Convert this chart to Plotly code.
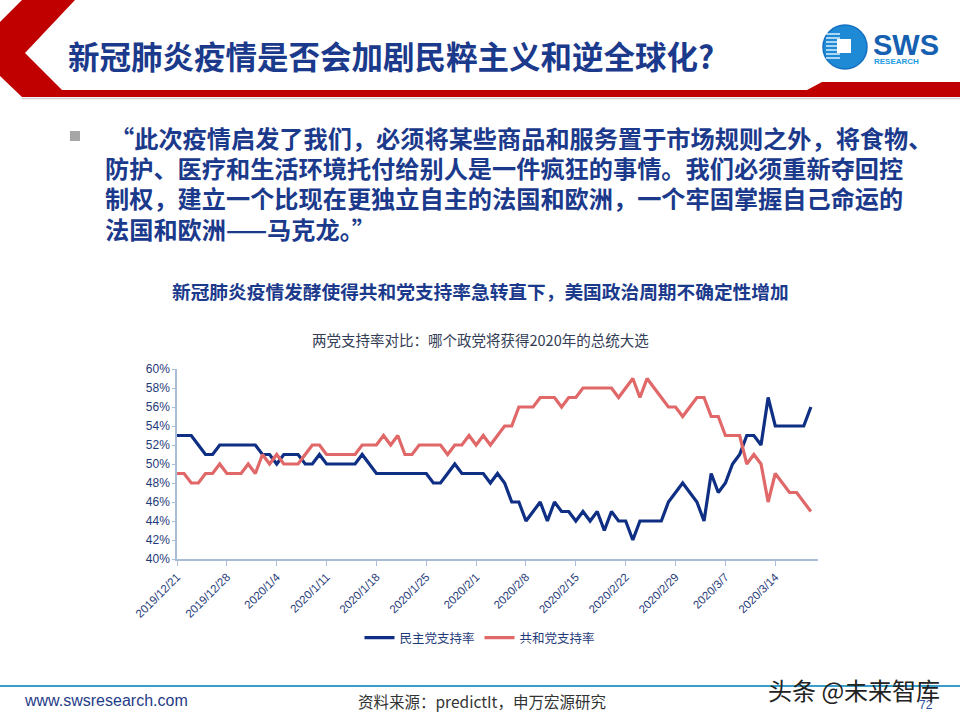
import plotly.graph_objects as go
import pandas as pd

# ---------------- data ----------------
start_date = "2019-12-21"
n_days = 90
dates = pd.date_range(start_date, periods=n_days, freq="D")

dem_support = [53, 53, 53, 52, 51, 51, 52, 52, 52, 52, 52, 52, 51, 51, 50, 51, 51, 51, 50, 50,
               51, 50, 50, 50, 50, 50, 51, 50, 49, 49, 49, 49, 49, 49, 49, 49, 48, 48, 49, 50,
               49, 49, 49, 49, 48, 49, 48, 46, 46, 44, 45, 46, 44, 46, 45, 45, 44, 45, 44, 45,
               43, 45, 44, 44, 42, 44, 44, 44, 44, 46, 47, 48, 47, 46, 44, 49, 47, 48, 50, 51,
               53, 53, 52, 57, 54, 54, 54, 54, 54, 56]
rep_support = [49, 49, 48, 48, 49, 49, 50, 49, 49, 49, 50, 49, 51, 50, 51, 50, 50, 50, 51, 52,
               52, 51, 51, 51, 51, 51, 52, 52, 52, 53, 52, 53, 51, 51, 52, 52, 52, 52, 51, 52,
               52, 53, 52, 53, 52, 53, 54, 54, 56, 56, 56, 57, 57, 57, 56, 57, 57, 58, 58, 58,
               58, 58, 57, 58, 59, 57, 59, 58, 57, 56, 56, 55, 56, 57, 57, 55, 55, 53, 53, 53,
               50, 51, 50, 46, 49, 48, 47, 47, 46, 45]

series_names = ["民主党支持率", "共和党支持率"]
tick_dates = ["2019-12-21", "2019-12-28", "2020-01-04", "2020-01-11", "2020-01-18",
              "2020-01-25", "2020-02-01", "2020-02-08", "2020-02-15", "2020-02-22",
              "2020-02-29", "2020-03-07", "2020-03-14"]
tick_labels = ["2019/12/21", "2019/12/28", "2020/1/4", "2020/1/11", "2020/1/18",
               "2020/1/25", "2020/2/1", "2020/2/8", "2020/2/15", "2020/2/22",
               "2020/2/29", "2020/3/7", "2020/3/14"]
y_ticks = [40, 42, 44, 46, 48, 50, 52, 54, 56, 58, 60]
y_tick_labels = ["40%", "42%", "44%", "46%", "48%", "50%", "52%", "54%", "56%", "58%", "60%"]

title_text = "新冠肺炎疫情是否会加剧民粹主义和逆全球化?"
quote_lines = [
    "“此次疫情启发了我们，必须将某些商品和服务置于市场规则之外，将食物、",
    "防护、医疗和生活环境托付给别人是一件疯狂的事情。我们必须重新夺回控",
    "制权，建立一个比现在更独立自主的法国和欧洲，一个牢固掌握自己命运的",
    "法国和欧洲——马克龙。”",
]
chart_title = "新冠肺炎疫情发酵使得共和党支持率急转直下，美国政治周期不确定性增加"
chart_subtitle = "两党支持率对比：哪个政党将获得2020年的总统大选"
source_text = "资料来源：predictIt，申万宏源研究"

# ---------------- styling ----------------
W, H = 960, 720
CJK = "Noto Sans CJK SC"
NAVY = "#1B3A8C"
BLUE_LINE = "#0E2F84"
RED_LINE = "#E06868"
AXIS_COL = "#A9BED6"
TICK_TXT = "#1F3A78"


def px(x):
    return x / W


def py(y):
    return 1 - y / H


fig = go.Figure()
fig.add_trace(go.Scatter(x=dates, y=dem_support, mode="lines", name=series_names[0],
                         line=dict(color=BLUE_LINE, width=3.2)))
fig.add_trace(go.Scatter(x=dates, y=rep_support, mode="lines", name=series_names[1],
                         line=dict(color=RED_LINE, width=3.2)))

fig.update_layout(
    width=W, height=H, autosize=False,
    margin=dict(l=0, r=0, t=0, b=0, pad=0, autoexpand=False),
    paper_bgcolor="white", plot_bgcolor="white",
    font=dict(family=CJK, color=TICK_TXT),
    showlegend=True,
    legend=dict(orientation="h", x=0.5, xanchor="center", y=py(638), yanchor="middle",
                font=dict(family=CJK, size=12.5, color=TICK_TXT), itemwidth=30,
                bgcolor="rgba(0,0,0,0)", traceorder="normal", tracegroupgap=0),
    xaxis=dict(domain=[px(177), px(818)], type="date", automargin=False,
               range=[pd.Timestamp(start_date), pd.Timestamp(start_date) + pd.Timedelta(days=n_days)],
               tickmode="array", tickvals=tick_dates, ticktext=tick_labels, tickangle=-45,
               ticks="outside", ticklen=5, tickcolor=AXIS_COL, tickwidth=1,
               showline=True, linecolor=AXIS_COL, linewidth=1.5, showgrid=False, zeroline=False,
               tickfont=dict(family="Liberation Sans", size=11.5, color=TICK_TXT)),
    yaxis=dict(domain=[1 - 559 / H, 1 - 369 / H], range=[40, 60], automargin=False,
               tickmode="array", tickvals=y_ticks, ticktext=y_tick_labels,
               showline=True, linecolor=AXIS_COL, linewidth=1.5, showgrid=False, zeroline=False,
               ticks="outside", ticklen=3, tickcolor=AXIS_COL,
               tickfont=dict(family="Liberation Sans", size=12, color=TICK_TXT)),
)

shapes = []
# header red chevron + bar
pts = [(22, 0), (75, 0), (25, 53), (62, 90), (807, 90), (822, 82), (960, 82), (960, 97),
       (22, 97), (0, 76), (0, 22)]
path = "M " + " L ".join(f"{px(a)},{py(b)}" for a, b in pts) + " Z"
shapes.append(dict(type="path", xref="paper", yref="paper", path=path,
                   fillcolor="#C00000", line=dict(width=0), layer="above"))
shapes.append(dict(type="line", xref="paper", yref="paper", x0=px(22), x1=1, y0=py(98.5), y1=py(98.5),
                   line=dict(color="#D0D0D0", width=1.5)))
# logo circle
shapes.append(dict(type="circle", xref="paper", yref="paper", x0=px(823), x1=px(867), y0=py(69), y1=py(25),
                   fillcolor="#1E8AD6", line=dict(color="#1670C0", width=1.5)))
for yy in [34, 38, 42, 46, 50, 54, 58]:
    shapes.append(dict(type="line", xref="paper", yref="paper", x0=px(826), x1=px(840), y0=py(yy), y1=py(yy),
                       line=dict(color="#DDEFFC", width=1.5)))
shapes.append(dict(type="rect", xref="paper", yref="paper", x0=px(837), x1=px(851), y0=py(53), y1=py(39),
                   fillcolor="white", line=dict(width=0)))
# bullet square
shapes.append(dict(type="rect", xref="paper", yref="paper", x0=px(70), x1=px(80), y0=py(141), y1=py(131),
                   fillcolor="#A6A6A6", line=dict(width=0)))
# footer line
shapes.append(dict(type="line", xref="paper", yref="paper", x0=0, x1=1, y0=py(686), y1=py(686),
                   line=dict(color="#3A9FC8", width=2)))
fig.update_layout(shapes=shapes)

ann = []
ann.append(dict(text=f"<b>{title_text}</b>", x=px(66), y=py(55), xanchor="left", yanchor="middle",
                font=dict(family=CJK, size=31.5, color=NAVY)))
ann.append(dict(text="<b>SWS</b>", x=px(871), y=py(45), xanchor="left", yanchor="middle",
                font=dict(family="Liberation Sans", size=29, color="#1560B0")))
ann.append(dict(text="<b>RESEARCH</b>", x=px(872), y=py(61), xanchor="left", yanchor="middle",
                font=dict(family="Liberation Sans", size=8, color="#1E9BE0")))
line_y = [137, 167, 197, 228]
line_x = [108, 103, 103, 103]
for t, yy, xx in zip(quote_lines, line_y, line_x):
    ann.append(dict(text=f"<b>{t}</b>", x=px(xx), y=py(yy), xanchor="left", yanchor="middle",
                    font=dict(family=CJK, size=24.2, color=NAVY)))
ann.append(dict(text=f"<b>{chart_title}</b>", x=px(480), y=py(290), xanchor="center", yanchor="middle",
                font=dict(family=CJK, size=18.7, color=NAVY)))
ann.append(dict(text=chart_subtitle, x=px(480), y=py(339), xanchor="center", yanchor="middle",
                font=dict(family=CJK, size=14.5, color="#333D55")))
ann.append(dict(text="www.swsresearch.com", x=px(22), y=py(700), xanchor="left", yanchor="middle",
                font=dict(family="Liberation Sans", size=16, color="#1F3C88")))
ann.append(dict(text=source_text, x=px(482), y=py(701), xanchor="center", yanchor="middle",
                font=dict(family=CJK, size=15.5, color="#333333")))
ann.append(dict(text="72", x=px(926), y=py(705), xanchor="center", yanchor="middle",
                font=dict(family="Liberation Sans", size=12, color="#3050A0")))
ann.append(dict(text="头条 @未来智库", x=px(942), y=py(689), xanchor="right", yanchor="middle",
                font=dict(family=CJK, size=24, color="#222222")))
for a in ann:
    a.update(xref="paper", yref="paper", showarrow=False)
fig.update_layout(annotations=ann)

fig.write_html("out.html")
